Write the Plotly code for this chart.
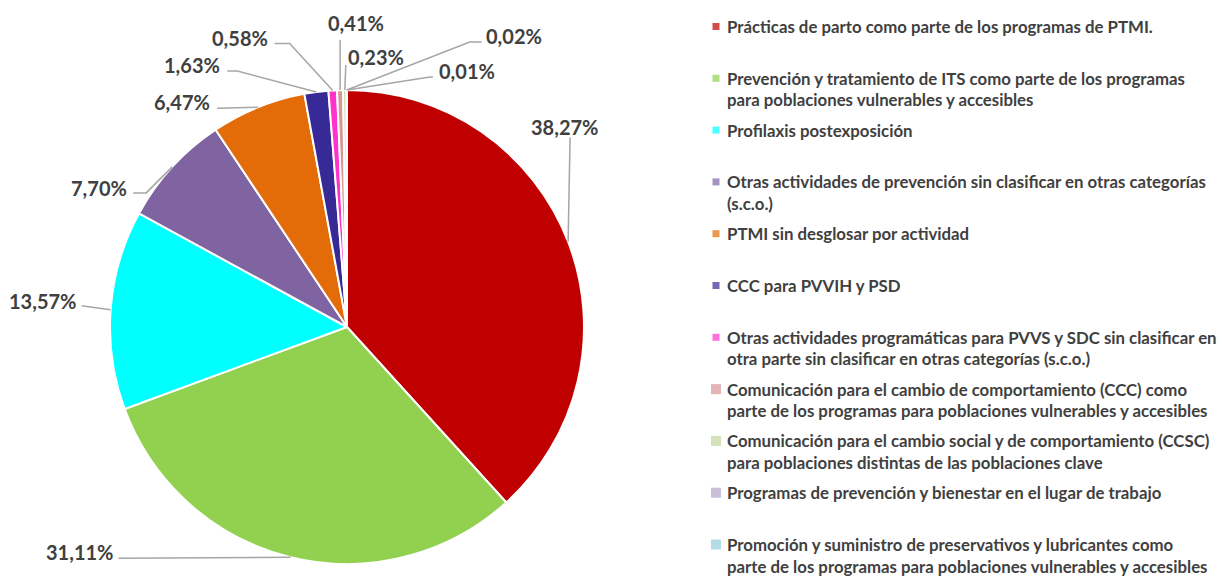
import math
import plotly.graph_objects as go

# ---------------- data ----------------
categories = [
    "Prácticas de parto como parte de los programas de PTMI.",
    "Prevención y tratamiento de ITS como parte de los programas para poblaciones vulnerables y accesibles",
    "Profilaxis postexposición",
    "Otras actividades de prevención sin clasificar en otras categorías (s.c.o.)",
    "PTMI sin desglosar por actividad",
    "CCC para PVVIH y PSD",
    "Otras actividades programáticas para PVVS y SDC sin clasificar en otra parte sin clasificar en otras categorías (s.c.o.)",
    "Comunicación para el cambio de comportamiento (CCC) como parte de los programas para poblaciones vulnerables y accesibles",
    "Comunicación para el cambio social y de comportamiento (CCSC) para poblaciones distintas de las poblaciones clave",
    "Programas de prevención y bienestar en el lugar de trabajo",
    "Promoción y suministro de preservativos y lubricantes como parte de los programas para poblaciones vulnerables y accesibles",
]
legend_lines = [
    ["Prácticas de parto como parte de los programas de PTMI."],
    ["Prevención y tratamiento de ITS como parte de los programas",
     "para poblaciones vulnerables y accesibles"],
    ["Profilaxis postexposición"],
    ["Otras actividades de prevención sin clasificar en otras categorías",
     "(s.c.o.)"],
    ["PTMI sin desglosar por actividad"],
    ["CCC para PVVIH y PSD"],
    ["Otras actividades programáticas para PVVS y SDC sin clasificar en",
     "otra parte sin clasificar en otras categorías (s.c.o.)"],
    ["Comunicación para el cambio de comportamiento (CCC) como",
     "parte de los programas para poblaciones vulnerables y accesibles"],
    ["Comunicación para el cambio social y de comportamiento (CCSC)",
     "para poblaciones distintas de las poblaciones clave"],
    ["Programas de prevención y bienestar en el lugar de trabajo"],
    ["Promoción y suministro de preservativos y lubricantes como",
     "parte de los programas para poblaciones vulnerables y accesibles"],
]
values = [38.27, 31.11, 13.57, 7.70, 6.47, 1.63, 0.58, 0.41, 0.23, 0.02, 0.01]

# ---------------- styles / layout ----------------
colors = ["#C00000", "#92D050", "#00FFFF", "#8064A2", "#E36C09", "#372996",
          "#FF33CC", "#D99694", "#C3D69B", "#B3A2C7", "#93CDDD"]
marker_sizes = [7, 7, 7, 7, 7, 7, 7, 10, 10, 10, 10]

W, H = 1222, 578
CX, CY, R = 347, 327, 237          # pie centre / radius in pixels
FONT = "Lato"
TEXT_COLOR = "#404040"
LINE_COLOR = "#A6A6A6"

# label placement relative to slice edge point: (dx, dy, xanchor), leader bends
label_offsets = [
    (-4, -115, "center", [(2, -104)]),
    (-176, -5, "right", [(-172, 1)]),
    (-33, -9, "right", [(-29, -4)]),
    (-43, 21, "right", [(-26, 26), (-39, 26)]),
    (-46, -5, "right", [(-41, 1)]),
    (-94, -27, "right", [(-79, -21), (-89, -21)]),
    (-63, -52, "right", [(-43, -47), (-58, -47)]),
    (16, -67, "center", [(0, -50)]),
    (31, -33, "center", [(1, -25)]),
    (137, -54, "left", [(123, -48), (135, -48)]),
    (90, -19, "left", [(83, -13), (86, -13)]),
]

LEG_X_MARK, LEG_X_TEXT = 716, 725
LEG_Y0, LEG_STEP, LEG_LINE = 26.5, 51.8, 21.5

fig = go.Figure()

fig.add_trace(go.Pie(
    labels=categories, values=values, sort=False, direction="clockwise",
    rotation=0, marker=dict(colors=colors, line=dict(color="white", width=2)),
    textinfo="none", hoverinfo="label+percent", showlegend=False,
    domain=dict(x=[(CX - R) / W, (CX + R) / W],
                y=[(H - CY - R) / H, (H - CY + R) / H]),
))

# legend markers as scatter on a pixel axis
leg_y = [LEG_Y0 + i * LEG_STEP for i in range(len(categories))]
fig.add_trace(go.Scatter(
    x=[LEG_X_MARK] * len(categories), y=leg_y, mode="markers",
    marker=dict(symbol="square", size=marker_sizes, color=colors, line=dict(width=0)),
    hoverinfo="skip", showlegend=False,
))

annotations = []
shapes = []
for i, lines in enumerate(legend_lines):
    for j, ln in enumerate(lines):
        annotations.append(dict(
            x=LEG_X_TEXT, y=leg_y[i] + j * LEG_LINE, xref="x", yref="y",
            text=ln, showarrow=False, xanchor="left", yanchor="middle",
            font=dict(family=FONT, size=16.8, color=TEXT_COLOR, weight="bold"),
        ))

total = sum(values)
cum = 0.0
for i, v in enumerate(values):
    mid = (cum + v / 2) / total * 2 * math.pi
    cum += v
    ex = CX + R * math.sin(mid)
    ey = CY - R * math.cos(mid)
    dx, dy, xa, bends = label_offsets[i]
    pts = [(ex, ey)] + [(ex + bx, ey + by) for bx, by in bends]
    path = "M " + " L ".join(f"{px:.1f},{py:.1f}" for px, py in pts)
    shapes.append(dict(type="path", path=path, xref="x", yref="y",
                       line=dict(color=LINE_COLOR, width=1.5)))
    txt = f"{v:.2f}%".replace(".", ",")
    annotations.append(dict(
        x=ex + dx, y=ey + dy, xref="x", yref="y", text=txt, showarrow=False,
        xanchor=xa, yanchor="middle",
        font=dict(family=FONT, size=20, color=TEXT_COLOR, weight="bold"),
    ))

fig.update_layout(
    width=W, height=H, margin=dict(l=0, r=0, t=0, b=0),
    paper_bgcolor="white", plot_bgcolor="rgba(0,0,0,0)",
    xaxis=dict(range=[0, W], visible=False, fixedrange=True, domain=[0, 1]),
    yaxis=dict(range=[H, 0], visible=False, fixedrange=True, domain=[0, 1]),
    annotations=annotations, shapes=shapes, showlegend=False,
)

fig.write_html("out.html", config={"displayModeBar": False},
               post_script="document.body.style.margin='0';document.body.style.overflow='hidden';")
